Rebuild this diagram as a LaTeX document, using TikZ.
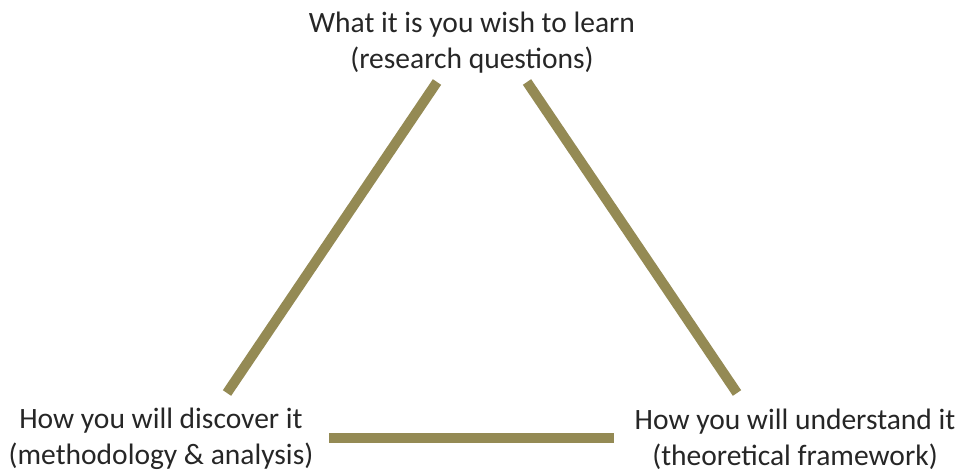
\documentclass[tikz,border=0pt]{standalone}
\usepackage{fontspec}
\setmainfont{Carlito}
\usepackage{xcolor}
\usepackage{tikz}
\usetikzlibrary{positioning}
\definecolor{olivebar}{HTML}{948A54}
\tikzset{
    corner/.style={text=black!85, align=center, font=\fontsize{16.8pt}{20.5pt}\selectfont, inner sep=0pt},
    side/.style={draw=olivebar, line width=10*0.02cm}
}

\begin{document}
\begin{tikzpicture}[x=0.02cm, y=-0.02cm]
            \useasboundingbox (0,0) rectangle (961,470);

            \node[corner] (learn) at (472,43) {What it is you wish to learn\\(research questions)};
            \node[corner] (discover) at (161,439) {How you will discover it\\(methodology \& analysis)};
            \node[corner] (understand) at (795,439) {How you will understand it\\(theoretical framework)};

            % ends of the three sides
            \coordinate (lt) at (437,82);
            \coordinate (lb) at (227,393);
            \coordinate (rt) at (527,82);
            \coordinate (rb) at (737,393);
            \coordinate (bl) at (329,438);
            \coordinate (br) at (614,438);

            \draw[side] (lb) -- (lt);
            \draw[side] (rt) -- (rb);
            \draw[side] (bl) -- (br);
        \end{tikzpicture}
\end{document}
